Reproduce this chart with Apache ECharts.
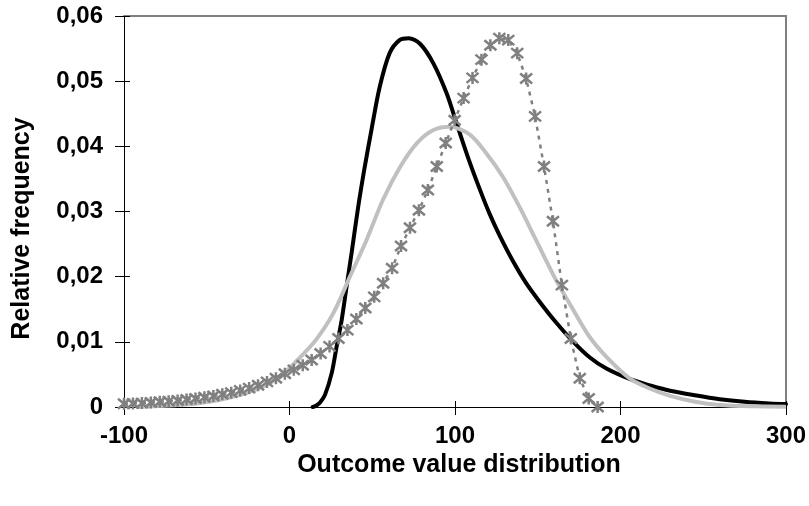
<!DOCTYPE html>
<html>
<head>
<meta charset="utf-8">
<script src="https://cdn.jsdelivr.net/npm/echarts@6.0.0/dist/echarts.min.js"></script>
<style>
  html, body { margin: 0; padding: 0; background: #fff; }
  #chart { width: 809px; height: 506px; }
</style>
</head>
<body>
<div id="chart"></div>
<script>
// x ticks / y ticks
var xTicks = [-100, 0, 100, 200, 300];
var yTicks = [0, 0.01, 0.02, 0.03, 0.04, 0.05, 0.06];

// black curve
var blackX = [14, 16, 18.5, 21.5, 25.5, 28.5, 31.5, 34.5, 37.5, 41.5, 45.5, 49.5, 54.5, 60.5, 66.5, 72, 79, 87, 95, 101, 108, 115, 121, 127, 135, 143, 151, 161, 171.5, 181.5, 191.5, 205.5, 218, 230, 245, 260, 275, 290, 300];
var blackY = [0, 0.0002, 0.0007, 0.0019, 0.0052, 0.0093, 0.0133, 0.0185, 0.0236, 0.0307, 0.0369, 0.0425, 0.0491, 0.0543, 0.0563, 0.0566, 0.0557, 0.0527, 0.0481, 0.0435, 0.0382, 0.0334, 0.0296, 0.0263, 0.0224, 0.019, 0.0162, 0.013, 0.01, 0.0076, 0.0059, 0.0043, 0.0033, 0.0025, 0.0018, 0.0012, 0.0008, 0.00055, 0.00045];

// light grey curve
var lightX = [-92, -80, -68, -56, -44, -32, -22, -12, -4, 6, 16, 26.5, 36.5, 46.5, 56.5, 67, 77, 87, 97, 109, 119, 129, 139, 149, 161, 171.5, 181.5, 191.5, 205.5, 218, 230, 245, 260, 280, 300];
var lightY = [0, 0.00015, 0.0003, 0.00055, 0.001, 0.0017, 0.0025, 0.0037, 0.005, 0.0075, 0.0103, 0.0144, 0.02, 0.0256, 0.0318, 0.0369, 0.0405, 0.0425, 0.043, 0.0418, 0.0389, 0.0353, 0.0307, 0.0256, 0.0195, 0.0149, 0.0107, 0.0077, 0.0044, 0.0028, 0.0017, 0.0008, 0.0003, 0.0001, 0.00005];

// grey star markers
var starX = [-100, -94.6, -89.2, -83.8, -78.4, -73, -67.6, -62.2, -56.8, -51.4, -46, -40.6, -35.2, -29.8, -24.4, -19, -13.6, -8.2, -2.8, 2.6, 8, 13.4, 18.8, 24.2, 29.6, 35, 40.4, 45.8, 51.2, 56.6, 62, 67.4, 72.8, 78.2, 83.6, 89, 94.4, 99.8, 105.2, 110.6, 116, 121.4, 126.8, 132.2, 137.6, 143, 148.4, 153.8, 159.2, 164.6, 170, 175.4, 180.8, 186.2];
var starY = [0.0005, 0.00055, 0.0006, 0.0007, 0.0008, 0.0009, 0.001, 0.00115, 0.0013, 0.0015, 0.0017, 0.00195, 0.0022, 0.00255, 0.0029, 0.00335, 0.00385, 0.0044, 0.0051, 0.0057, 0.0064, 0.0072, 0.0082, 0.0093, 0.0105, 0.0118, 0.0135, 0.0152, 0.0169, 0.019, 0.0213, 0.0247, 0.0275, 0.0302, 0.0333, 0.0369, 0.0405, 0.044, 0.0474, 0.0505, 0.0533, 0.0555, 0.0566, 0.0563, 0.0543, 0.0504, 0.0446, 0.0369, 0.0285, 0.0187, 0.0105, 0.0044, 0.0013, 0];

function pairs(xs, ys) {
  var d = [];
  for (let i = 0; i < xs.length; i++) {
    d.push([xs[i], ys[i]]);
  }
  return d;
}

var tickFont = {
  color: '#000',
  fontFamily: 'Liberation Sans, Arial, sans-serif',
  fontWeight: 'bold',
  fontSize: 24
};
var nameFont = {
  color: '#000',
  fontFamily: 'Liberation Sans, Arial, sans-serif',
  fontWeight: 'bold',
  fontSize: 25
};

var xMin = xTicks[0], xMax = xTicks[xTicks.length - 1];
var yMin = yTicks[0], yMax = yTicks[yTicks.length - 1];

var chart = echarts.init(document.getElementById('chart'));
var option = {
  animation: false,
  grid: { left: 124, right: 23, top: 16, bottom: 99 },
  xAxis: [
    {
      type: 'value', min: xMin, max: xMax, interval: 100, position: 'bottom',
      name: 'Outcome value distribution', nameLocation: 'middle', nameGap: 46,
      nameTextStyle: Object.assign({ padding: [0, 0, 0, 8] }, nameFont),
      axisLine: { onZero: false, lineStyle: { color: '#000', width: 1 } },
      axisTick: { length: 8, lineStyle: { color: '#000' } },
      axisLabel: Object.assign({ margin: 17 }, tickFont),
      splitLine: { show: false }
    },
    {
      // inner half of the crossing ticks
      type: 'value', min: xMin, max: xMax, interval: 100, position: 'bottom',
      axisLine: { show: false, onZero: false },
      axisTick: { inside: true, length: 6, lineStyle: { color: '#000' } },
      axisLabel: { show: false },
      splitLine: { show: false }
    },
    {
      // grey frame on top
      type: 'value', min: xMin, max: xMax, position: 'top',
      axisLine: { onZero: false, lineStyle: { color: '#808080', width: 2 } },
      axisTick: { show: false },
      axisLabel: { show: false },
      splitLine: { show: false }
    }
  ],
  yAxis: [
    {
      type: 'value', min: yMin, max: yMax, interval: 0.01, position: 'left',
      name: 'Relative frequency', nameLocation: 'middle', nameGap: 89,
      nameTextStyle: Object.assign({ padding: [0, 34, 0, 0] }, nameFont),
      axisLine: { onZero: false, lineStyle: { color: '#000', width: 1 } },
      axisTick: { length: 9, lineStyle: { color: '#000' } },
      axisLabel: Object.assign({
        margin: 21,
        formatter: function (v) {
          return v === 0 ? '0' : v.toFixed(2).replace('.', ',');
        }
      }, tickFont),
      splitLine: { show: false }
    },
    {
      type: 'value', min: yMin, max: yMax, interval: 0.01, position: 'left',
      axisLine: { show: false, onZero: false },
      axisTick: { inside: true, length: 6, lineStyle: { color: '#000' } },
      axisLabel: { show: false },
      splitLine: { show: false }
    },
    {
      // grey frame on the right
      type: 'value', min: yMin, max: yMax, position: 'right',
      axisLine: { onZero: false, lineStyle: { color: '#808080', width: 2 } },
      axisTick: { show: false },
      axisLabel: { show: false },
      splitLine: { show: false }
    }
  ],
  series: [
    {
      type: 'line',
      data: pairs(blackX, blackY),
      smooth: 0.3,
      showSymbol: false,
      lineStyle: { color: '#000', width: 4, cap: 'round' },
      z: 2
    },
    {
      type: 'line',
      data: pairs(lightX, lightY),
      smooth: 0.3,
      showSymbol: false,
      lineStyle: { color: '#c0c0c0', width: 4 },
      z: 3
    },
    {
      type: 'line',
      data: pairs(starX, starY),
      symbol: 'path://M0,0L10,10M10,0L0,10M5,-1L5,11',
      symbolSize: 12,
      itemStyle: { color: 'none', borderColor: '#808080', borderWidth: 2.5 },
      lineStyle: { color: '#808080', width: 2.5, type: [4, 5] },
      z: 4
    }
  ]
};
chart.setOption(option);
</script>
</body>
</html>
